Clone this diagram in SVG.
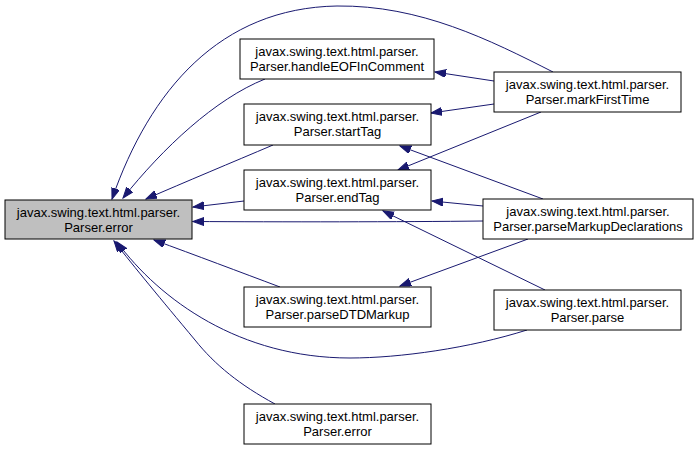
<svg xmlns="http://www.w3.org/2000/svg" width="699" height="451" viewBox="0 0 699 451">
<style>
.node rect{fill:#ffffff;stroke:#000000;stroke-width:1}
.node.hl rect{fill:#bfbfbf}
.node text{font-family:"Liberation Sans",Arial,sans-serif;font-size:13px;fill:#000000;text-anchor:middle}
.edges path{fill:none;stroke:#191970;stroke-width:1;marker-end:url(#ah)}
</style>
<defs>
<marker id="ah" markerUnits="userSpaceOnUse" markerWidth="12" markerHeight="9" refX="11" refY="4" orient="auto" viewBox="0 0 12 9">
<path d="M0,0 L11,4 L0,8 z" fill="#191970" stroke="#191970" stroke-width="1"/>
</marker>
</defs>
<rect width="699" height="451" fill="#ffffff"/>
<g id="edges" class="edges">
<path d="M553,72 C490,40 420,5 337,6 C220,8 150,90 112,199"/>
<path d="M265,79 C215,99 163,148 123,198"/>
<path d="M273,145 C233,162 185,182 146,199"/>
<path d="M244,201 L193,207"/>
<path d="M483,221 C400,222 280,222 193,221.5"/>
<path d="M280,287 C240,272 195,255 154,240"/>
<path d="M527,330 C470,348 400,358 350,358 C240,358 160,300 117,242"/>
<path d="M275,404 C240,385 215,365 195,340 C160,298 135,268 114,241"/>
<path d="M494,81 L435,72"/>
<path d="M494,104 L431,113"/>
<path d="M541,112 L398,170"/>
<path d="M543,199 L400,146"/>
<path d="M483,206 L432,201"/>
<path d="M528,239 L400,286"/>
<path d="M545,290 L383,211"/>
</g>
<g id="n_error" class="node hl"><rect x="5" y="200" width="187" height="39"/><text x="98.5" y="217">javax.swing.text.html.parser.</text><text x="98.5" y="232">Parser.error</text></g>
<g id="n_handleEOFInComment" class="node"><rect x="240" y="39" width="194" height="40"/><text x="337" y="56">javax.swing.text.html.parser.</text><text x="337" y="71">Parser.handleEOFInComment</text></g>
<g id="n_startTag" class="node"><rect x="244" y="104" width="187" height="41"/><text x="337.5" y="121">javax.swing.text.html.parser.</text><text x="337.5" y="136">Parser.startTag</text></g>
<g id="n_endTag" class="node"><rect x="244" y="170" width="187" height="40"/><text x="337.5" y="187">javax.swing.text.html.parser.</text><text x="337.5" y="202">Parser.endTag</text></g>
<g id="n_parseDTDMarkup" class="node"><rect x="244" y="287" width="187" height="40"/><text x="337.5" y="304">javax.swing.text.html.parser.</text><text x="337.5" y="319">Parser.parseDTDMarkup</text></g>
<g id="n_error2" class="node"><rect x="244" y="404" width="187" height="40"/><text x="337.5" y="421">javax.swing.text.html.parser.</text><text x="337.5" y="436">Parser.error</text></g>
<g id="n_markFirstTime" class="node"><rect x="494" y="72" width="187" height="40"/><text x="587.5" y="89">javax.swing.text.html.parser.</text><text x="587.5" y="104">Parser.markFirstTime</text></g>
<g id="n_parseMarkupDeclarations" class="node"><rect x="483" y="199" width="210" height="40"/><text x="588" y="216">javax.swing.text.html.parser.</text><text x="588" y="231">Parser.parseMarkupDeclarations</text></g>
<g id="n_parse" class="node"><rect x="494" y="290" width="187" height="40"/><text x="587.5" y="307">javax.swing.text.html.parser.</text><text x="587.5" y="322">Parser.parse</text></g>
</svg>
